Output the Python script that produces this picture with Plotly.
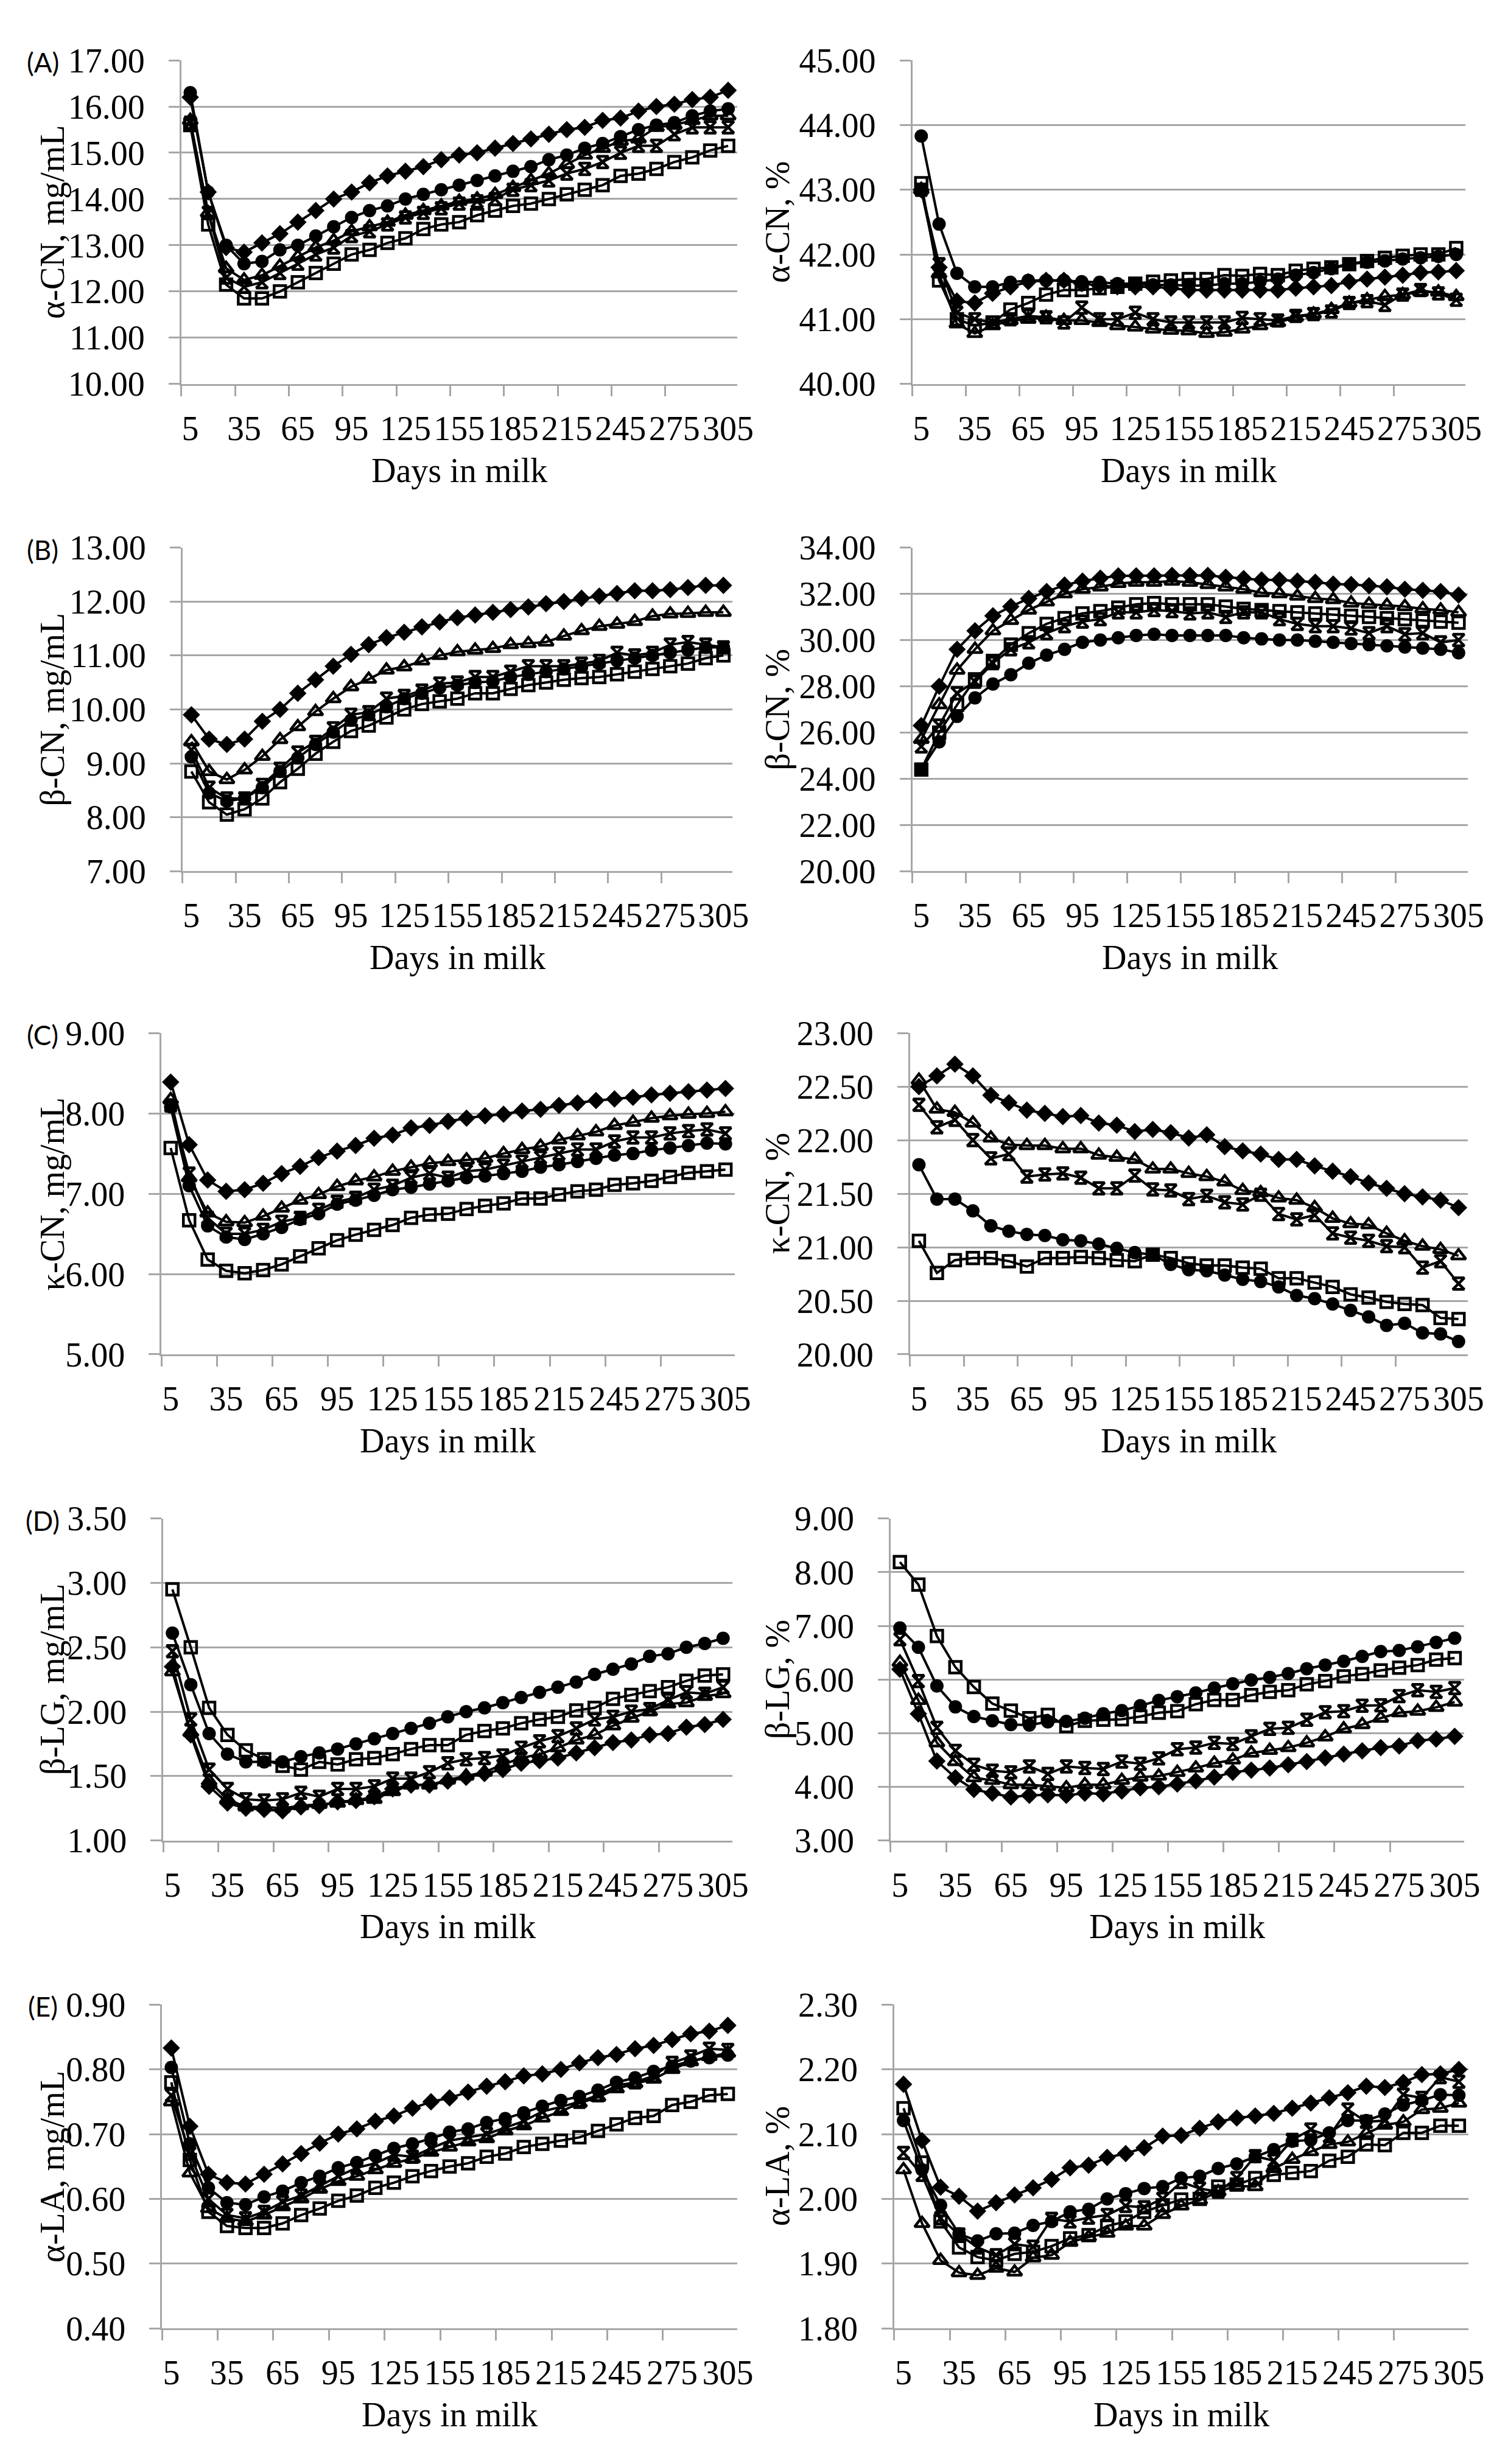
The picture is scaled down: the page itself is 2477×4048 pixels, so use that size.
import plotly.graph_objects as go

W, H = 2477, 4048

# days in milk (category centres) and the labels shown on the x axis
dim = [5, 15, 25, 35, 45, 55, 65, 75, 85, 95, 105, 115, 125, 135, 145, 155,
       165, 175, 185, 195, 205, 215, 225, 235, 245, 255, 265, 275, 285, 295, 305]
dim_labels = [5, 35, 65, 95, 125, 155, 185, 215, 245, 275, 305]

# (A) alpha-CN, mg/mL
a_mg_diamond = [16.2, 14.15, 12.95, 12.85, 13.05, 13.25, 13.5, 13.75, 14.0, 14.15, 14.35, 14.5, 14.6, 14.7, 14.85, 14.95,
                15.0, 15.1, 15.2, 15.3, 15.4, 15.5, 15.55, 15.7, 15.75, 15.9, 16.0, 16.05, 16.15, 16.2, 16.35]
a_mg_circle = [16.3, 14.15, 13.0, 12.6, 12.65, 12.9, 13.0, 13.2, 13.4, 13.6, 13.75, 13.85, 14.0, 14.1, 14.2, 14.3,
               14.4, 14.5, 14.6, 14.7, 14.85, 14.95, 15.1, 15.2, 15.35, 15.5, 15.6, 15.65, 15.8, 15.9, 15.95]
a_mg_square = [15.6, 13.45, 12.15, 11.85, 11.85, 12.0, 12.2, 12.4, 12.6, 12.8, 12.9, 13.05, 13.15, 13.35, 13.45, 13.5,
               13.65, 13.75, 13.85, 13.9, 14.0, 14.1, 14.2, 14.3, 14.5, 14.55, 14.65, 14.8, 14.9, 15.05, 15.15]
a_mg_triangle = [15.7, 13.7, 12.5, 12.25, 12.35, 12.55, 12.75, 12.95, 13.1, 13.3, 13.4, 13.5, 13.65, 13.75, 13.85, 13.95,
                 14.0, 14.1, 14.25, 14.4, 14.55, 14.75, 14.95, 15.1, 15.25, 15.3, 15.55, 15.6, 15.7, 15.8, 15.8]
a_mg_star = [15.65, 13.7, 12.3, 12.1, 12.2, 12.4, 12.6, 12.8, 12.95, 13.2, 13.3, 13.45, 13.6, 13.7, 13.8, 13.9,
             13.95, 14.0, 14.2, 14.3, 14.4, 14.55, 14.65, 14.8, 15.0, 15.15, 15.15, 15.4, 15.55, 15.55, 15.55]

# (A) alpha-CN, %
a_pc_diamond = [43.0, 41.8, 41.28, 41.25, 41.4, 41.5, 41.58, 41.6, 41.6, 41.55, 41.52, 41.5, 41.5, 41.5, 41.48, 41.45,
                41.45, 41.45, 41.45, 41.45, 41.45, 41.48, 41.5, 41.52, 41.58, 41.62, 41.65, 41.68, 41.72, 41.73, 41.75]
a_pc_circle = [43.83, 42.47, 41.71, 41.5, 41.5, 41.57, 41.6, 41.6, 41.6, 41.58, 41.57, 41.55, 41.55, 41.53, 41.53, 41.52,
               41.52, 41.55, 41.55, 41.58, 41.62, 41.68, 41.72, 41.78, 41.85, 41.88, 41.9, 41.93, 41.95, 41.97, 42.0]
a_pc_square = [43.1, 41.6, 41.0, 40.9, 40.95, 41.15, 41.25, 41.38, 41.45, 41.45, 41.48, 41.5, 41.55, 41.58, 41.6, 41.62,
               41.62, 41.68, 41.67, 41.7, 41.68, 41.75, 41.78, 41.8, 41.85, 41.9, 41.95, 41.98, 42.0, 42.0, 42.1]
a_pc_triangle = [43.0, 41.7, 40.93, 40.78, 40.9, 40.98, 41.0, 41.03, 40.98, 40.98, 40.95, 40.9, 40.88, 40.85, 40.83, 40.82,
                 40.78, 40.8, 40.85, 40.9, 40.95, 41.03, 41.08, 41.15, 41.25, 41.3, 41.35, 41.38, 41.42, 41.42, 41.35]
a_pc_star = [43.0, 41.85, 41.1, 41.0, 40.95, 41.0, 41.05, 41.03, 40.95, 41.18, 41.0, 41.0, 41.1, 41.0, 40.95, 40.95,
             40.95, 40.95, 41.02, 41.0, 40.98, 41.05, 41.08, 41.12, 41.25, 41.28, 41.22, 41.38, 41.45, 41.4, 41.3]

# (B) beta-CN, mg/mL
b_mg_diamond = [9.9, 9.45, 9.35, 9.45, 9.78, 10.0, 10.3, 10.55, 10.8, 11.02, 11.2, 11.33, 11.43, 11.53, 11.62, 11.7,
                11.75, 11.8, 11.85, 11.9, 11.96, 12.0, 12.06, 12.1, 12.15, 12.2, 12.2, 12.22, 12.26, 12.3, 12.3]
b_mg_circle = [9.12, 8.45, 8.3, 8.35, 8.55, 8.85, 9.1, 9.35, 9.58, 9.8, 9.9, 10.05, 10.2, 10.3, 10.4, 10.45,
               10.5, 10.52, 10.6, 10.65, 10.7, 10.75, 10.8, 10.85, 10.9, 10.95, 11.0, 11.05, 11.1, 11.15, 11.15]
b_mg_square = [8.85, 8.28, 8.05, 8.15, 8.35, 8.65, 8.9, 9.18, 9.4, 9.6, 9.7, 9.85, 10.0, 10.1, 10.15, 10.2,
               10.3, 10.3, 10.38, 10.45, 10.5, 10.55, 10.58, 10.6, 10.65, 10.7, 10.75, 10.8, 10.85, 10.95, 11.0]
b_mg_triangle = [9.4, 8.85, 8.7, 8.88, 9.13, 9.44, 9.68, 9.96, 10.2, 10.42, 10.56, 10.73, 10.79, 10.9, 11.0, 11.07,
                 11.1, 11.13, 11.2, 11.22, 11.25, 11.36, 11.46, 11.54, 11.58, 11.63, 11.73, 11.77, 11.78, 11.8, 11.8]
b_mg_star = [9.25, 8.55, 8.35, 8.35, 8.6, 8.9, 9.2, 9.4, 9.65, 9.9, 9.95, 10.2, 10.25, 10.35, 10.48, 10.5,
             10.6, 10.6, 10.7, 10.8, 10.8, 10.8, 10.85, 10.9, 11.05, 11.0, 11.05, 11.2, 11.25, 11.2, 11.15]

# (B) beta-CN, %
b_pc_diamond = [26.3, 28.0, 29.6, 30.4, 31.05, 31.45, 31.8, 32.1, 32.38, 32.55, 32.68, 32.78, 32.78, 32.78, 32.8, 32.8,
                32.8, 32.72, 32.66, 32.6, 32.6, 32.55, 32.5, 32.42, 32.4, 32.35, 32.3, 32.2, 32.15, 32.1, 31.95]
b_pc_circle = [24.4, 25.6, 26.7, 27.5, 28.1, 28.5, 29.0, 29.35, 29.6, 29.9, 30.0, 30.1, 30.2, 30.25, 30.2, 30.2,
               30.2, 30.2, 30.1, 30.05, 30.0, 30.0, 29.95, 29.9, 29.85, 29.8, 29.75, 29.7, 29.65, 29.6, 29.45]
b_pc_square = [24.4, 26.0, 27.2, 28.3, 29.1, 29.8, 30.3, 30.7, 30.95, 31.15, 31.25, 31.4, 31.55, 31.6, 31.55, 31.55,
               31.55, 31.45, 31.35, 31.3, 31.25, 31.2, 31.15, 31.1, 31.05, 31.0, 30.95, 30.9, 30.85, 30.8, 30.75]
b_pc_triangle = [25.7, 27.2, 28.7, 29.6, 30.4, 30.85, 31.3, 31.65, 32.0, 32.2, 32.3, 32.45, 32.5, 32.5, 32.55, 32.5,
                 32.4, 32.3, 32.2, 32.05, 32.0, 31.9, 31.8, 31.75, 31.6, 31.55, 31.5, 31.45, 31.35, 31.3, 31.2]
b_pc_star = [25.4, 26.3, 27.7, 28.2, 29.0, 29.6, 29.9, 30.3, 30.6, 30.8, 30.9, 31.2, 31.2, 31.3, 31.25, 31.15,
             31.2, 31.0, 31.2, 31.2, 30.9, 30.7, 30.6, 30.6, 30.5, 30.3, 30.6, 30.25, 30.3, 29.9, 30.0]

# (C) kappa-CN, mg/mL
c_mg_diamond = [8.39, 7.61, 7.17, 7.03, 7.05, 7.13, 7.25, 7.34, 7.45, 7.53, 7.6, 7.69, 7.73, 7.82, 7.85, 7.9,
                7.94, 7.97, 7.99, 8.03, 8.05, 8.1, 8.13, 8.16, 8.18, 8.2, 8.23, 8.25, 8.27, 8.29, 8.31]
c_mg_circle = [8.08, 7.1, 6.6, 6.46, 6.43, 6.5, 6.58, 6.68, 6.75, 6.87, 6.92, 6.98, 7.05, 7.08, 7.12, 7.16,
               7.2, 7.22, 7.25, 7.28, 7.33, 7.36, 7.4, 7.44, 7.48, 7.5, 7.54, 7.57, 7.6, 7.63, 7.62]
c_mg_square = [7.57, 6.67, 6.18, 6.04, 6.01, 6.05, 6.12, 6.22, 6.32, 6.42, 6.49, 6.55, 6.61, 6.7, 6.74, 6.75,
               6.81, 6.85, 6.88, 6.94, 6.94, 6.99, 7.03, 7.05, 7.11, 7.13, 7.16, 7.21, 7.26, 7.28, 7.3]
c_mg_triangle = [8.17, 7.2, 6.76, 6.65, 6.64, 6.72, 6.82, 6.92, 6.99, 7.09, 7.16, 7.21, 7.28, 7.33, 7.38, 7.4,
                 7.42, 7.44, 7.5, 7.55, 7.59, 7.67, 7.72, 7.77, 7.85, 7.89, 7.94, 7.97, 7.99, 8.0, 8.02]
c_mg_star = [8.1, 7.25, 6.7, 6.5, 6.5, 6.55, 6.65, 6.7, 6.8, 6.9, 6.95, 7.05, 7.1, 7.2, 7.25, 7.2,
             7.28, 7.3, 7.35, 7.4, 7.45, 7.5, 7.55, 7.55, 7.65, 7.7, 7.7, 7.75, 7.78, 7.8, 7.75]

# (C) kappa-CN, %
c_pc_diamond = [22.5, 22.6, 22.71, 22.6, 22.42, 22.35, 22.28, 22.25, 22.22, 22.23, 22.16, 22.14, 22.08, 22.1, 22.07, 22.02,
                22.05, 21.94, 21.9, 21.87, 21.82, 21.82, 21.76, 21.71, 21.66, 21.6, 21.55, 21.5, 21.47, 21.44, 21.37]
c_pc_circle = [21.77, 21.45, 21.45, 21.34, 21.2, 21.15, 21.12, 21.11, 21.07, 21.06, 21.03, 20.99, 20.95, 20.93, 20.84, 20.79,
               20.78, 20.74, 20.7, 20.68, 20.63, 20.55, 20.52, 20.47, 20.41, 20.35, 20.27, 20.29, 20.2, 20.19, 20.12]
c_pc_square = [21.06, 20.76, 20.88, 20.9, 20.9, 20.87, 20.82, 20.9, 20.9, 20.91, 20.9, 20.88, 20.87, 20.93, 20.9, 20.85,
               20.83, 20.83, 20.81, 20.8, 20.71, 20.71, 20.67, 20.63, 20.56, 20.53, 20.49, 20.47, 20.46, 20.34, 20.33]
c_pc_triangle = [22.56, 22.29, 22.26, 22.16, 22.02, 21.96, 21.95, 21.95, 21.92, 21.92, 21.86, 21.84, 21.82, 21.73, 21.73, 21.69,
                 21.66, 21.61, 21.53, 21.51, 21.46, 21.44, 21.37, 21.27, 21.22, 21.21, 21.13, 21.06, 21.01, 20.98, 20.92]
c_pc_star = [22.33, 22.12, 22.19, 22.0, 21.83, 21.87, 21.66, 21.68, 21.69, 21.65, 21.55, 21.55, 21.67, 21.54, 21.53, 21.45,
             21.48, 21.42, 21.4, 21.49, 21.31, 21.26, 21.3, 21.13, 21.09, 21.06, 21.01, 21.0, 20.81, 20.87, 20.66]

# (D) beta-LG, mg/mL
d_mg_diamond = [2.35, 1.82, 1.42, 1.29, 1.25, 1.24, 1.23, 1.26, 1.27, 1.3, 1.31, 1.34, 1.4, 1.43, 1.43, 1.46,
                1.49, 1.52, 1.55, 1.6, 1.62, 1.64, 1.68, 1.72, 1.76, 1.78, 1.82, 1.83, 1.88, 1.9, 1.94]
d_mg_circle = [2.61, 2.21, 1.83, 1.67, 1.61, 1.61, 1.61, 1.65, 1.68, 1.71, 1.75, 1.79, 1.83, 1.87, 1.91, 1.96,
               2.0, 2.03, 2.07, 2.11, 2.15, 2.19, 2.23, 2.29, 2.33, 2.37, 2.43, 2.45, 2.5, 2.53, 2.57]
d_mg_square = [2.95, 2.5, 2.03, 1.82, 1.7, 1.63, 1.58, 1.55, 1.61, 1.59, 1.63, 1.64, 1.67, 1.71, 1.74, 1.74,
               1.82, 1.85, 1.87, 1.91, 1.94, 1.96, 2.01, 2.03, 2.1, 2.13, 2.16, 2.19, 2.24, 2.28, 2.29]
d_mg_triangle = [2.31, 1.84, 1.46, 1.32, 1.26, 1.26, 1.25, 1.27, 1.28, 1.29, 1.31, 1.32, 1.38, 1.43, 1.43, 1.47,
                 1.5, 1.53, 1.59, 1.64, 1.67, 1.72, 1.78, 1.82, 1.89, 1.95, 2.0, 2.06, 2.07, 2.12, 2.14]
d_mg_star = [2.47, 1.94, 1.55, 1.4, 1.32, 1.31, 1.32, 1.37, 1.34, 1.4, 1.4, 1.42, 1.48, 1.48, 1.53, 1.6,
             1.63, 1.64, 1.66, 1.72, 1.77, 1.81, 1.87, 1.94, 1.96, 2.0, 2.02, 2.09, 2.15, 2.14, 2.19]

# (D) beta-LG, %
d_pc_diamond = [6.19, 5.36, 4.48, 4.17, 3.95, 3.88, 3.81, 3.84, 3.85, 3.84, 3.88, 3.87, 3.92, 3.98, 4.0, 4.05,
                4.11, 4.18, 4.27, 4.31, 4.35, 4.41, 4.47, 4.54, 4.61, 4.67, 4.73, 4.76, 4.86, 4.89, 4.94]
d_pc_circle = [6.96, 6.6, 5.88, 5.49, 5.31, 5.23, 5.16, 5.15, 5.21, 5.22, 5.28, 5.36, 5.42, 5.51, 5.61, 5.68,
               5.75, 5.84, 5.92, 5.99, 6.04, 6.11, 6.2, 6.27, 6.34, 6.43, 6.52, 6.54, 6.61, 6.69, 6.77]
d_pc_square = [8.19, 7.77, 6.81, 6.23, 5.86, 5.55, 5.42, 5.28, 5.34, 5.13, 5.23, 5.25, 5.26, 5.31, 5.38, 5.41,
               5.54, 5.62, 5.62, 5.71, 5.77, 5.8, 5.91, 5.97, 6.06, 6.1, 6.17, 6.22, 6.27, 6.37, 6.4]
d_pc_triangle = [6.32, 5.61, 4.82, 4.47, 4.17, 4.12, 4.04, 4.04, 4.01, 3.98, 4.04, 4.04, 4.12, 4.18, 4.2, 4.27,
                 4.35, 4.44, 4.5, 4.63, 4.68, 4.73, 4.82, 4.93, 5.08, 5.16, 5.28, 5.38, 5.41, 5.48, 5.58]
d_pc_star = [6.75, 5.97, 5.1, 4.67, 4.41, 4.3, 4.27, 4.38, 4.24, 4.38, 4.35, 4.33, 4.47, 4.43, 4.53, 4.7,
             4.73, 4.82, 4.8, 4.94, 5.08, 5.1, 5.25, 5.39, 5.41, 5.51, 5.52, 5.69, 5.8, 5.77, 5.84]

# (E) alpha-LA, mg/mL
e_mg_diamond = [0.833, 0.712, 0.638, 0.625, 0.623, 0.638, 0.654, 0.67, 0.686, 0.7, 0.708, 0.72, 0.728, 0.74, 0.75, 0.756,
                0.765, 0.774, 0.781, 0.79, 0.793, 0.8, 0.81, 0.818, 0.823, 0.832, 0.837, 0.846, 0.855, 0.859, 0.868]
e_mg_circle = [0.803, 0.685, 0.617, 0.594, 0.591, 0.603, 0.612, 0.625, 0.635, 0.648, 0.656, 0.667, 0.678, 0.685, 0.693, 0.703,
               0.708, 0.718, 0.724, 0.733, 0.743, 0.752, 0.758, 0.768, 0.78, 0.787, 0.797, 0.805, 0.813, 0.818, 0.822]
e_mg_square = [0.78, 0.66, 0.58, 0.558, 0.555, 0.555, 0.562, 0.575, 0.585, 0.597, 0.605, 0.617, 0.625, 0.635, 0.643, 0.65,
               0.655, 0.665, 0.67, 0.68, 0.685, 0.69, 0.695, 0.705, 0.715, 0.725, 0.728, 0.745, 0.75, 0.76, 0.762]
e_mg_triangle = [0.75, 0.64, 0.585, 0.57, 0.565, 0.575, 0.588, 0.6, 0.615, 0.627, 0.635, 0.645, 0.655, 0.662, 0.672, 0.68,
                 0.688, 0.693, 0.705, 0.713, 0.725, 0.735, 0.748, 0.757, 0.77, 0.778, 0.785, 0.8, 0.812, 0.82, 0.825]
e_mg_star = [0.76, 0.67, 0.6, 0.575, 0.57, 0.58, 0.595, 0.605, 0.62, 0.635, 0.648, 0.655, 0.668, 0.665, 0.678, 0.69,
             0.695, 0.7, 0.71, 0.72, 0.735, 0.742, 0.75, 0.76, 0.775, 0.78, 0.79, 0.81, 0.82, 0.832, 0.83]

# (E) alpha-LA, %
e_pc_diamond = [2.177, 2.09, 2.018, 2.004, 1.981, 1.994, 2.006, 2.017, 2.03, 2.048, 2.052, 2.064, 2.07, 2.079, 2.097, 2.098,
                2.109, 2.119, 2.125, 2.128, 2.132, 2.14, 2.148, 2.156, 2.164, 2.174, 2.172, 2.18, 2.192, 2.193, 2.2]
e_pc_circle = [2.121, 2.045, 1.99, 1.946, 1.935, 1.946, 1.947, 1.959, 1.965, 1.98, 1.984, 2.0, 2.008, 2.016, 2.019, 2.032,
               2.035, 2.047, 2.054, 2.065, 2.076, 2.089, 2.091, 2.102, 2.121, 2.121, 2.131, 2.145, 2.152, 2.161, 2.16]
e_pc_square = [2.14, 2.056, 1.965, 1.925, 1.91, 1.905, 1.915, 1.918, 1.927, 1.939, 1.944, 1.958, 1.965, 1.98, 1.99, 1.999,
               2.0, 2.019, 2.022, 2.032, 2.037, 2.04, 2.043, 2.059, 2.065, 2.084, 2.083, 2.102, 2.102, 2.113, 2.113]
e_pc_triangle = [2.045, 1.962, 1.905, 1.886, 1.882, 1.893, 1.887, 1.909, 1.913, 1.933, 1.941, 1.947, 1.958, 1.958, 1.976, 1.989,
                 1.998, 2.011, 2.02, 2.019, 2.047, 2.061, 2.073, 2.084, 2.088, 2.101, 2.114, 2.119, 2.138, 2.14, 2.148]
e_pc_star = [2.071, 2.037, 1.97, 1.945, 1.925, 1.913, 1.93, 1.926, 1.969, 1.965, 1.971, 1.975, 1.989, 1.987, 2.0, 2.026,
             2.016, 2.011, 2.032, 2.066, 2.059, 2.091, 2.107, 2.097, 2.138, 2.119, 2.121, 2.161, 2.156, 2.188, 2.181]

GRID = "#a6a6a6"
SERIF = "Liberation Serif, Times New Roman, serif"
FS = 56

# marker style per series (same in every panel)
styles = {
    "diamond": dict(symbol="diamond", size=22, color="black"),
    "circle": dict(symbol="circle", size=22, color="black"),
    "square": dict(symbol="square-open", size=19, color="black", line=dict(width=4.5)),
    "triangle": dict(symbol="triangle-up-open", size=21, color="black", line=dict(width=4.5)),
    "star": dict(symbol="hourglass-open", size=19, color="black", line=dict(width=4.5)),
}

# panel: label, y title, range, dtick, x px [l, r], y px [top, bottom], series
panels = [
    ("(A)", "α-CN, mg/mL", [10, 17], 1, [293, 1216], [62, 602],
     dict(diamond=a_mg_diamond, circle=a_mg_circle, square=a_mg_square, triangle=a_mg_triangle, star=a_mg_star)),
    (None, "α-CN, %", [40, 45], 1, [1507, 2425], [62, 602],
     dict(diamond=a_pc_diamond, circle=a_pc_circle, square=a_pc_square, triangle=a_pc_triangle, star=a_pc_star)),
    ("(B)", "β-CN, mg/mL", [7, 13], 1, [295, 1208], [875, 1415],
     dict(diamond=b_mg_diamond, circle=b_mg_circle, square=b_mg_square, triangle=b_mg_triangle, star=b_mg_star)),
    (None, "β-CN, %", [20, 34], 2, [1507, 2429], [875, 1415],
     dict(diamond=b_pc_diamond, circle=b_pc_circle, square=b_pc_square, triangle=b_pc_triangle, star=b_pc_star)),
    ("(C)", "κ-CN, mg/mL", [5, 9], 1, [260, 1212], [1685, 2221],
     dict(diamond=c_mg_diamond, circle=c_mg_circle, square=c_mg_square, triangle=c_mg_triangle, star=c_mg_star)),
    (None, "κ-CN, %", [20, 23], 0.5, [1503, 2429], [1685, 2221],
     dict(diamond=c_pc_diamond, circle=c_pc_circle, square=c_pc_square, triangle=c_pc_triangle, star=c_pc_star)),
    ("(D)", "β-LG, mg/mL", [1, 3.5], 0.5, [263, 1208], [2495, 3032],
     dict(diamond=d_mg_diamond, circle=d_mg_circle, square=d_mg_square, triangle=d_mg_triangle, star=d_mg_star)),
    (None, "β-LG, %", [3, 9], 1, [1471, 2423], [2495, 3032],
     dict(diamond=d_pc_diamond, circle=d_pc_circle, square=d_pc_square, triangle=d_pc_triangle, star=d_pc_star)),
    ("(E)", "α-LA, mg/mL", [0.4, 0.9], 0.1, [261, 1216], [3306, 3846],
     dict(diamond=e_mg_diamond, circle=e_mg_circle, square=e_mg_square, triangle=e_mg_triangle, star=e_mg_star)),
    (None, "α-LA, %", [1.8, 2.3], 0.1, [1477, 2430], [3306, 3846],
     dict(diamond=e_pc_diamond, circle=e_pc_circle, square=e_pc_square, triangle=e_pc_triangle, star=e_pc_star)),
]

fig = go.Figure()
annotations = []
layout = {}

for i, (tag, ytitle, yr, dt, xpx, ypx, series) in enumerate(panels):
    n = "" if i == 0 else str(i + 1)
    xa, ya = "x" + n, "y" + n
    left_col = i % 2 == 0
    for name in ["square", "star", "triangle", "circle", "diamond"]:
        fig.add_trace(go.Scatter(
            x=dim, y=series[name], mode="lines+markers", name=name,
            line=dict(color="black", width=4), marker=styles[name],
            xaxis=xa, yaxis=ya, showlegend=False, cliponaxis=False,
        ))
    layout["xaxis" + n] = dict(
        domain=[xpx[0] / W, xpx[1] / W], anchor=ya, range=[0, 310],
        tickmode="array", tickvals=dim_labels, ticks="", ticklabelstandoff=22,
        showgrid=False, zeroline=False, showline=True, linecolor=GRID, linewidth=2.5,
        tickfont=dict(family=SERIF, size=FS, color="black"),
        minor=dict(tickmode="array", tickvals=[d - 5 for d in dim_labels[:-1]],
                   ticks="outside", ticklen=17, tickwidth=2.5, tickcolor=GRID, showgrid=False),
    )
    layout["yaxis" + n] = dict(
        domain=[1 - ypx[1] / H, 1 - ypx[0] / H], anchor=xa, range=yr,
        tick0=yr[0], dtick=dt, tickformat=".2f", ticks="outside", ticklen=18,
        tickwidth=2.5, tickcolor=GRID, ticklabelstandoff=28,
        showgrid=True, gridcolor=GRID, gridwidth=2.5, zeroline=False,
        showline=True, linecolor=GRID, linewidth=2.5,
        tickfont=dict(family=SERIF, size=FS, color="black"),
    )
    ymid = 1 - (ypx[0] + ypx[1]) / 2 / H
    annotations.append(dict(
        text=ytitle, xref="paper", yref="paper", x=(79 if left_col else 1283) / W, y=ymid,
        textangle=-90, showarrow=False, xanchor="center", yanchor="middle",
        font=dict(family=SERIF, size=FS, color="black"),
    ))
    annotations.append(dict(
        text="Days in milk", xref="paper", yref="paper", x=(xpx[0] + xpx[1]) / 2 / W,
        y=1 - (ypx[1] + 144) / H, showarrow=False, xanchor="center", yanchor="middle",
        font=dict(family=SERIF, size=FS, color="black"),
    ))
    if tag:
        annotations.append(dict(
            text=tag, xref="paper", yref="paper", x=63 / W, y=1 - (ypx[0] + 3) / H,
            showarrow=False, xanchor="center", yanchor="middle",
            font=dict(family="Lato", size=44, color="black"),
        ))

fig.update_layout(
    width=W, height=H, margin=dict(l=0, r=0, t=0, b=0),
    paper_bgcolor="white", plot_bgcolor="white",
    annotations=annotations, **layout,
)

fig.write_html("out.html", config={"displayModeBar": False})
